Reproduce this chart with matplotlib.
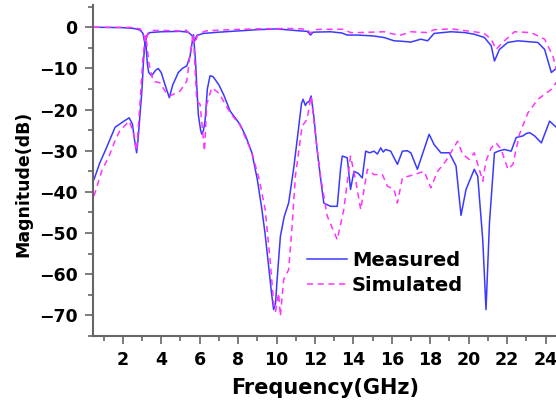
import matplotlib
matplotlib.use('Agg')
import matplotlib.pyplot as plt
from matplotlib.ticker import MultipleLocator

plt.rcParams['font.family'] = ['DejaVu Sans']
plt.rcParams['font.weight'] = 'bold'

# S11 measured (blue, solid)
s11_meas_f = [0.5, 0.8, 1.15, 1.4, 1.6, 2.0, 2.33, 2.5, 2.6, 2.72, 2.8, 2.9, 3.0, 3.08, 3.18,
              3.28, 3.35, 3.5, 3.7, 3.84, 4.0, 4.2, 4.42, 4.6, 4.89, 5.1, 5.33, 5.5, 5.6, 5.68,
              5.78, 5.93, 6.05, 6.11, 6.2, 6.28, 6.4, 6.54, 6.7, 7.0, 7.24, 7.59, 8.1, 8.4,
              8.72, 9.0, 9.24, 9.4, 9.59, 9.75, 9.85, 9.95, 10.03, 10.2, 10.4, 10.63, 10.9,
              11.16, 11.3, 11.38, 11.5, 11.59, 11.7, 11.8, 11.95, 12.11, 12.3, 12.46, 12.81,
              13.07, 13.16, 13.33, 13.42, 13.68, 13.85, 14.03, 14.25, 14.46, 14.64, 14.85,
              15.07, 15.25, 15.42, 15.55, 15.68, 15.94, 16.29, 16.55, 16.8, 16.99, 17.33,
              17.94, 18.2, 18.55, 18.99, 19.34, 19.6, 19.86, 20.29, 20.47, 20.73, 20.9, 21.08,
              21.34, 21.6, 21.86, 22.21, 22.47, 22.82, 23.0, 23.17, 23.43, 23.78, 24.21, 24.6]
s11_meas_db = [-37, -33, -29.3, -26.5, -24.3, -23, -22.0, -23.5, -27, -30.5, -27, -21, -15, -8, -2.5,
               -9, -11, -11.8, -10.5, -10.0, -11, -14, -17.1, -14, -11.0, -10, -9.4, -7, -4, -1.8,
               -8, -21.2, -25, -26.0, -25, -22.8, -15, -11.8, -12, -14, -16.3, -20.4, -23.6, -26.5,
               -30.5, -37, -44.3, -50, -58.1, -65, -68.6, -67, -61.3, -50.8, -46, -42.7, -34,
               -24.0, -18.5, -17.5, -19, -18.3, -18, -16.7, -22, -29.7, -37, -42.7, -43.5,
               -43.5, -43.5, -34.5, -31.3, -31.7, -39.4, -35.0, -35.5, -36.6, -30.1, -30.5,
               -30.1, -30.8, -29.3, -30.3, -29.7, -30.1, -33.3, -30.1, -30, -30.5, -34.5,
               -26.0, -28.5, -30.5, -30.5, -33.7, -45.7, -39.4, -34.5, -36.2, -51.6, -68.6, -47.5,
               -30.5, -30, -29.7, -30.1, -26.8, -26.4, -25.8, -25.6, -26.4, -28.1, -22.8, -24.5]

# S11 simulated (magenta, dashed)
s11_sim_f = [0.5, 0.9, 1.32, 1.6, 1.84, 2.33, 2.54, 2.72, 2.89, 3.06, 3.2, 3.37, 3.58, 3.93, 4.2,
             4.45, 4.98, 5.2, 5.33, 5.5, 5.67, 5.85, 6.02, 6.15, 6.25, 6.37, 6.63, 7.0, 7.59, 8.1,
             8.72, 9.1, 9.41, 9.68, 9.85, 9.95, 10.11, 10.2, 10.37, 10.63, 10.81, 10.98, 11.33,
             11.59, 11.8, 12.03, 12.29, 12.64, 13.16, 13.5, 13.85, 14.11, 14.38, 14.73, 15.07,
             15.51, 15.77, 16.12, 16.29, 16.55, 17.16, 17.68, 18.03, 18.38, 18.81, 19.42, 19.69,
             20.03, 20.29, 20.55, 20.73, 20.9, 21.17, 21.43, 21.69, 22.04, 22.3, 22.64, 23.08,
             23.6, 24.3, 24.6]
s11_sim_db = [-41, -35, -30.9, -27.5, -25.2, -22.8, -25.2, -30.1, -18.7, -6.6, -2.1, -9.0, -13.1, -13.5, -15.5,
              -16.7, -15.5, -14, -13.1, -6.6, -1.7, -17.9, -18.7, -25, -30.1, -18.7, -14.7, -16, -20.8, -23.8,
              -30.5, -37, -44.3, -57.3, -67, -69, -64.6, -70.2, -61.3, -58.9, -48.3, -36.2, -24.0,
              -22.4, -16.7, -26.4, -36.2, -45.9, -51.6, -44.3, -31.3, -37.0, -44.3, -34.5, -35.8,
              -35.8, -38.6, -39.4, -42.7, -36.6, -35.8, -35.0, -39.0, -35.0, -32.5, -27.7, -30.9,
              -32.1, -30.5, -34.5, -37.4, -32.5, -29.3, -28.1, -29.7, -34.5, -33.3, -26.0, -20.8,
              -17.5, -15.1, -13.1]

# S21 measured (blue, solid)
s21_meas_f = [0.5, 2.0, 2.6, 2.9, 3.05, 3.15, 3.25, 3.4, 4.0, 5.0, 5.4, 5.6, 5.72, 5.85, 6.2, 7.0,
              8.0, 9.0, 10.0, 11.24, 11.6, 11.77, 11.9, 12.81, 13.4, 13.68, 14.2, 15.0, 15.6,
              16.12, 16.5, 16.99, 17.51, 17.86, 18.2, 19.08, 19.8, 20.29, 20.82, 21.17, 21.34,
              21.6, 22.03, 22.56, 23.6, 23.95, 24.3, 24.6]
s21_meas_db = [0, -0.1, -0.3, -0.7, -1.5, -4.0, -2.0, -1.3, -1.1, -1.0, -1.2, -2.0, -3.5, -2.0, -1.5, -1.2,
               -0.9, -0.6, -0.4, -0.9, -1.0, -1.9, -1.2, -1.1, -1.4, -1.9, -1.9, -2.1, -2.5,
               -3.3, -3.4, -3.6, -2.9, -3.3, -1.5, -1.1, -1.3, -1.7, -2.5, -4.5, -8.2,
               -5.4, -3.7, -3.3, -3.7, -5.4, -11.0, -9.8]

# S21 simulated (magenta, dashed)
s21_sim_f = [0.5, 2.5, 2.9, 3.05, 3.2, 3.3, 3.5, 4.5, 5.0, 5.3, 5.45, 5.6, 5.75, 5.9, 6.3, 7.5,
             9.0, 10.5, 11.24, 11.6, 11.77, 11.95, 12.29, 13.5, 13.85, 14.2, 15.6, 16.12, 16.4,
             17.0, 17.86, 18.2, 19.08, 20.29, 20.8, 21.17, 21.43, 21.6, 21.95, 22.38, 23.25,
             23.95, 24.38, 24.6]
s21_sim_db = [0, -0.05, -0.4, -1.3, -3.5, -1.5, -0.8, -0.8, -0.9, -0.7, -1.5, -2.5, -4.0, -1.8, -0.9, -0.6,
              -0.4, -0.3, -0.4, -0.5, -1.5, -0.6, -0.5, -0.5, -1.3, -1.3, -1.1, -1.7, -2.0,
              -1.1, -1.3, -0.6, -0.4, -1.1, -1.5, -2.9, -5.4, -4.5, -2.9, -1.1, -1.3,
              -2.9, -7.0, -11]

blue = '#3a3aff'
magenta = '#ff33ff'

fig = plt.figure(figsize=(5.56, 4.08), dpi=100)
ax = fig.add_axes([93 / 556, 72 / 408, 1 - 93 / 556 + 0.002, 331 / 408])

ax.plot(s11_meas_f, s11_meas_db, color=blue, lw=1.1, label='Measured')
ax.plot(s21_meas_f, s21_meas_db, color=blue, lw=1.1)
ax.plot(s11_sim_f, s11_sim_db, color=magenta, lw=1.1, dashes=(4, 3), label='Simulated')
ax.plot(s21_sim_f, s21_sim_db, color=magenta, lw=1.1, dashes=(4, 3))

ax.set_xlim(0.45, 24.6)
ax.set_ylim(-75, 5.4)
ax.xaxis.set_major_locator(MultipleLocator(2))
ax.xaxis.set_minor_locator(MultipleLocator(1))
ax.yaxis.set_major_locator(MultipleLocator(10))
ax.yaxis.set_minor_locator(MultipleLocator(5))
ax.set_xticks(range(2, 25, 2))

for s in ['top', 'right']:
    ax.spines[s].set_visible(False)
for s in ['left', 'bottom']:
    ax.spines[s].set_color('#666666')
    ax.spines[s].set_linewidth(1.5)

ax.tick_params(which='major', direction='out', length=6, width=1.2, color='#666666',
               labelsize=12.5, pad=5)
ax.tick_params(which='minor', direction='out', length=3.5, width=1.2, color='#666666')
for lab in ax.get_xticklabels() + ax.get_yticklabels():
    lab.set_fontweight('bold')

ax.set_xlabel('Frequency(GHz)', fontsize=15, fontweight='bold')
ax.set_ylabel('Magnitude(dB)', fontsize=12.5, fontweight='bold')
ax.xaxis.set_label_coords((325 - 93) / 463, (336 - 378) / 331)
ax.yaxis.set_label_coords((33 - 93) / 463, (336 - 184) / 331)

fig.legend(loc='upper left', bbox_to_anchor=(307 / 556, 1 - 251 / 408), frameon=False,
           prop={'size': 14, 'weight': 'bold'}, handlelength=2.05, handletextpad=0.26,
           labelspacing=0.32, borderpad=0, borderaxespad=0)

fig.savefig('out.png', dpi=100)
